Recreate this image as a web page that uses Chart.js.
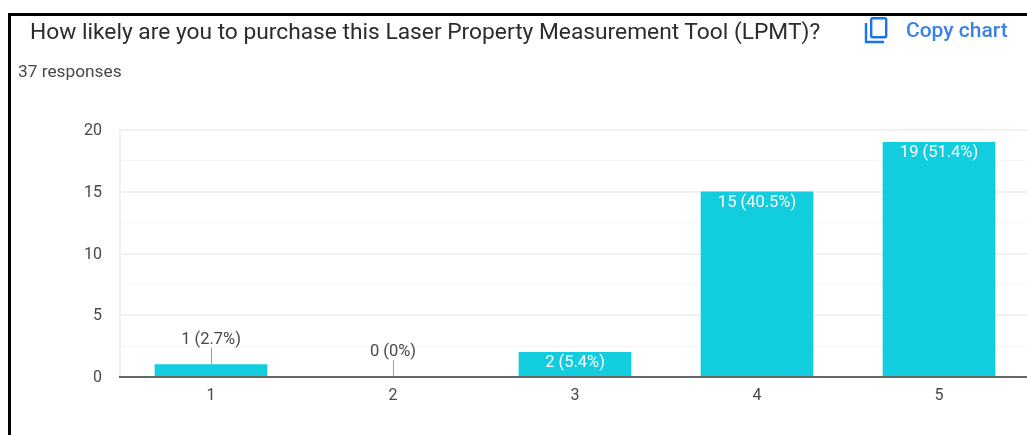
<!DOCTYPE html>
<html>
<head>
<meta charset="utf-8">
<script src="https://cdn.jsdelivr.net/npm/chart.js@4"></script>
<style>
  html, body { margin: 0; padding: 0; width: 1027px; height: 435px; overflow: hidden; background: #fff; }
  body { position: relative; font-family: Roboto, sans-serif; }
  #frameTop { position: absolute; left: 8px; top: 13px; width: 1019px; height: 3px; background: #000; }
  #frameLeft { position: absolute; left: 8px; top: 13px; width: 3px; height: 422px; background: #000; }
  #title { position: absolute; left: 30px; top: 19px; font-size: 22.75px; line-height: 26px; color: #2b2c2f; white-space: nowrap; }
  #responses { position: absolute; left: 18px; top: 62px; font-size: 17.3px; line-height: 18px; color: #45484c; white-space: nowrap; }
  #copyIcon { position: absolute; left: 864px; top: 16px; }
  #copyText { position: absolute; left: 906px; top: 18px; font-size: 21px; line-height: 24px; font-weight: 500; color: #3b82e6; white-space: nowrap; }
  canvas { position: absolute; left: 0; top: 0; }
</style>
</head>
<body>
<canvas id="myChart" width="1040" height="435"></canvas>
<div id="frameTop"></div>
<div id="frameLeft"></div>
<div id="title">How likely are you to purchase this Laser Property Measurement Tool (LPMT)?</div>
<div id="responses">37 responses</div>
<svg id="copyIcon" width="26" height="30" viewBox="0 0 26 30">
  <path d="M2 7 V26 H20" fill="none" stroke="#1a73e8" stroke-width="2.4"/>
  <rect x="7.2" y="2.2" width="15" height="19" rx="1.5" fill="none" stroke="#1a73e8" stroke-width="2.4"/>
</svg>
<div id="copyText">Copy chart</div>
<script>
const categories = ['1', '2', '3', '4', '5']
const counts = [1, 0, 2, 15, 19]
const barLabels = ['1 (2.7%)', '0 (0%)', '2 (5.4%)', '15 (40.5%)', '19 (51.4%)']
const yTickLabels = [0, 5, 10, 15, 20]

// labels sit inside the bar when it is tall enough, otherwise above it with a leader line
const barLabelPlugin = {
  id: 'barLabels',
  afterDatasetsDraw(chart) {
    const ctx = chart.ctx
    const meta = chart.getDatasetMeta(0)
    const y0 = chart.scales.y.getPixelForValue(0)
    ctx.save()
    ctx.font = '16.5px Roboto'
    ctx.textAlign = 'center'
    ctx.textBaseline = 'middle'
    meta.data.forEach(function (bar, i) {
      if (y0 - bar.y > 20) {
        ctx.fillStyle = '#ffffff'
        ctx.fillText(barLabels[i], bar.x, bar.y + 11)
      } else {
        ctx.strokeStyle = '#9e9e9e'
        ctx.lineWidth = 1
        ctx.beginPath()
        ctx.moveTo(bar.x + 0.5, bar.y)
        ctx.lineTo(bar.x + 0.5, bar.y - 17)
        ctx.stroke()
        ctx.fillStyle = '#45484c'
        ctx.fillText(barLabels[i], bar.x, bar.y - 25)
      }
    })
    ctx.restore()
  }
}

const ctx = document.getElementById('myChart').getContext('2d')
const chart = new Chart(ctx, {
  type: 'bar',
  data: {
    labels: categories,
    datasets: [{
      data: counts,
      backgroundColor: '#12cdde',
      barThickness: 112
    }]
  },
  options: {
    responsive: false,
    animation: false,
    layout: { padding: { top: 130, right: 10, left: 0, bottom: 0 } },
    plugins: { legend: { display: false }, tooltip: { enabled: false } },
    scales: {
      x: {
        afterFit(scale) { scale.height = 58 },
        grid: { display: false, drawTicks: false },
        border: { color: '#666666', width: 2, z: 1 },
        ticks: { color: '#45484c', font: { family: 'Roboto', size: 16 }, padding: 9, maxRotation: 0 }
      },
      y: {
        min: 0,
        max: 20,
        afterFit(scale) { scale.width = 120 },
        grid: {
          drawTicks: false,
          lineWidth(c) { return yTickLabels.includes(c.tick.value) ? 2 : 1 },
          color(c) { return yTickLabels.includes(c.tick.value) ? '#f1f1f1' : '#f6f6f6' }
        },
        border: { color: '#f1f1f1', width: 2 },
        ticks: {
          stepSize: 2.5,
          autoSkip: false,
          color: '#45484c',
          font: { family: 'Roboto', size: 16 },
          padding: 18,
          labelOffset: 1,
          callback(value) { return yTickLabels.includes(value) ? String(value) : '' }
        }
      }
    }
  },
  plugins: [barLabelPlugin]
})
</script>
</body>
</html>
